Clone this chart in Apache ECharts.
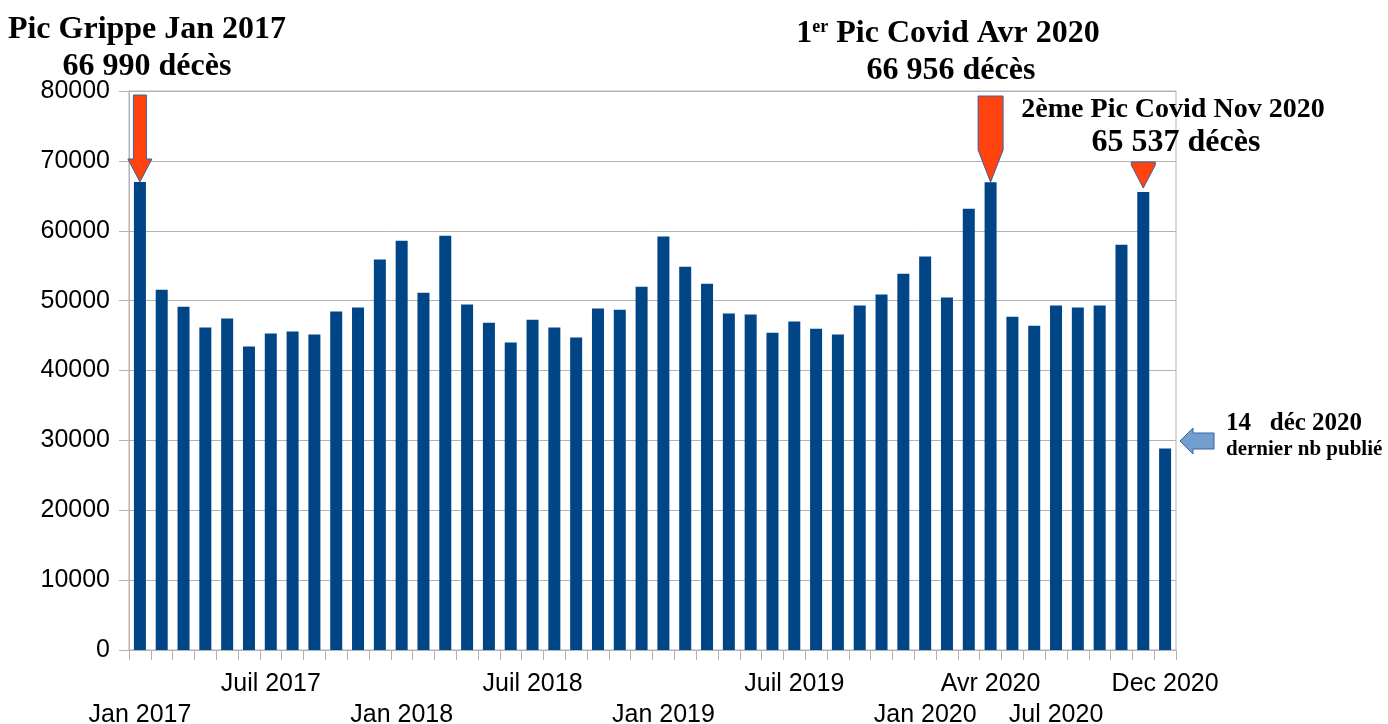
<!DOCTYPE html>
<html><head><meta charset="utf-8">
<script src="https://cdn.jsdelivr.net/npm/echarts@6/dist/echarts.min.js"></script>
<style>html,body{margin:0;padding:0;background:#fff}#c{width:1388px;height:724px}</style>
</head><body><div id="c"></div>
<script>
const months = [
 'Jan 2017','Fév 2017','Mar 2017','Avr 2017','Mai 2017','Juin 2017','Juil 2017','Août 2017','Sep 2017','Oct 2017','Nov 2017','Déc 2017',
 'Jan 2018','Fév 2018','Mar 2018','Avr 2018','Mai 2018','Juin 2018','Juil 2018','Août 2018','Sep 2018','Oct 2018','Nov 2018','Déc 2018',
 'Jan 2019','Fév 2019','Mar 2019','Avr 2019','Mai 2019','Juin 2019','Juil 2019','Août 2019','Sep 2019','Oct 2019','Nov 2019','Déc 2019',
 'Jan 2020','Fév 2020','Mar 2020','Avr 2020','Mai 2020','Juin 2020','Juil 2020','Août 2020','Sep 2020','Oct 2020','Nov 2020','Déc 2020'
];
const deaths = [
 66990, 51570, 49140, 46140, 47430, 43420, 45280, 45570, 45140, 48430, 49000, 55870,
 58580, 51140, 59300, 49430, 46850, 43990, 47280, 46140, 44710, 48860, 48710, 52000,
 59160, 54860, 52430, 48140, 48000, 45420, 47000, 45990, 45140, 49290, 50860, 53860,
 56300, 50430, 63160, 66956, 47710, 46420, 49290, 49000, 49290, 58010, 65537, 28830
];
const tickIndex = [0, 6, 12, 18, 24, 30, 36, 39, 42, 47];
const tickText  = ['Jan 2017','Juil 2017','Jan 2018','Juil 2018','Jan 2019','Juil 2019','Jan 2020','Avr 2020','Jul 2020','Dec 2020'];
const tickLower = [true, false, true, false, true, false, true, false, true, false];

const chart = echarts.init(document.getElementById('c'), null, {renderer:'canvas'});
const GRID = '#b3b3b3';
chart.setOption({
  animation: false,
  backgroundColor: '#ffffff',
  grid: {left: 129, top: 91, width: 1047, height: 559, outerBoundsMode: 'none', containLabel: false,
         show: true, borderColor: GRID, borderWidth: 1, backgroundColor: 'transparent'},
  xAxis: {
    type: 'category', data: months, boundaryGap: true,
    axisLine: {lineStyle: {color: GRID, width: 1}},
    axisTick: {show: true, interval: 0, length: 10, lineStyle: {color: GRID}},
    axisLabel: {
      interval: function (i) { return tickIndex.indexOf(i) >= 0; },
      formatter: function (v, i) {
        const k = tickIndex.indexOf(i);
        if (k < 0) return '';
        return tickLower[k] ? '\n' + tickText[k] : tickText[k];
      },
      margin: 19, lineHeight: 31,
      fontFamily: 'Liberation Sans', fontSize: 25, color: '#000'
    },
    splitLine: {show: false}
  },
  yAxis: {
    type: 'value', min: 0, max: 80000, interval: 10000,
    axisLine: {show: true, lineStyle: {color: GRID}},
    axisTick: {show: true, length: 10, lineStyle: {color: GRID}},
    axisLabel: {margin: 19, fontFamily: 'Liberation Sans', fontSize: 25, color: '#000',
                formatter: function (v) { return String(v); }},
    splitLine: {lineStyle: {color: GRID, width: 1}}
  },
  series: [{
    type: 'bar', data: deaths, barWidth: 12,
    itemStyle: {color: '#004586'}
  }]
});

function px(i) { return chart.convertToPixel({xAxisIndex: 0, yAxisIndex: 0}, [i, deaths[i]]); }
function downArrow(cx, topY, tipY, shw, hhw, headY) {
  return [[cx - shw, topY], [cx + shw, topY], [cx + shw, headY], [cx + hhw, headY], [cx, tipY], [cx - hhw, headY], [cx - shw, headY]];
}
const ORANGE = '#ff420e', OUT = '#3465a4';
const p1 = px(0), p2 = px(39), p3 = px(46);
const serif = 'Liberation Serif';
function txt(text, x, y, size, align, rich) {
  const st = {text: text, x: x, y: y, fontFamily: serif, fontWeight: 'bold', fontSize: size, fill: '#000', align: align || 'center', verticalAlign: 'middle'};
  if (rich) st.rich = rich;
  return {type: 'text', z: 110, style: st};
}
const right = 129 + 1047;
chart.setOption({
  graphic: [
    {type: 'polygon', z: 100, shape: {points: downArrow(p1[0], 95, p1[1], 6.5, 12, 159)}, style: {fill: ORANGE, stroke: OUT, lineWidth: 1}},
    {type: 'polygon', z: 100, shape: {points: downArrow(p2[0], 96, p2[1], 12.5, 12.5, 150)}, style: {fill: ORANGE, stroke: OUT, lineWidth: 1}},
    {type: 'polygon', z: 100, shape: {points: downArrow(p3[0], 162, p3[1] - 4, 12, 12, 165)}, style: {fill: ORANGE, stroke: OUT, lineWidth: 1}},
    {type: 'polygon', z: 100, shape: {points: [[right + 4, 441], [right + 17, 428], [right + 17, 433], [right + 38, 433], [right + 38, 449], [right + 17, 449], [right + 17, 454]]}, style: {fill: '#729fcf', stroke: OUT, lineWidth: 1}},
    txt('Pic Grippe Jan 2017', 147, 30, 32),
    txt('66 990 décès', 147, 67, 32),
    txt('{a|1}{s|er}{a| Pic Covid Avr 2020}', 948, 34, 32, 'center', {
      a: {fontFamily: serif, fontWeight: 'bold', fontSize: 32, lineHeight: 36},
      s: {fontFamily: serif, fontWeight: 'bold', fontSize: 18, verticalAlign: 'top', lineHeight: 36, padding: [2, 0, 0, 0]}
    }),
    txt('66 956 décès', 951, 71, 32),
    txt('2ème Pic Covid Nov 2020', 1173, 110, 28),
    txt('65 537 décès', 1176, 143, 32),
    txt('14   déc 2020', 1226, 424, 25, 'left'),
    txt('dernier nb publié', 1226, 450, 21, 'left')
  ]
});
</script>
</body></html>
